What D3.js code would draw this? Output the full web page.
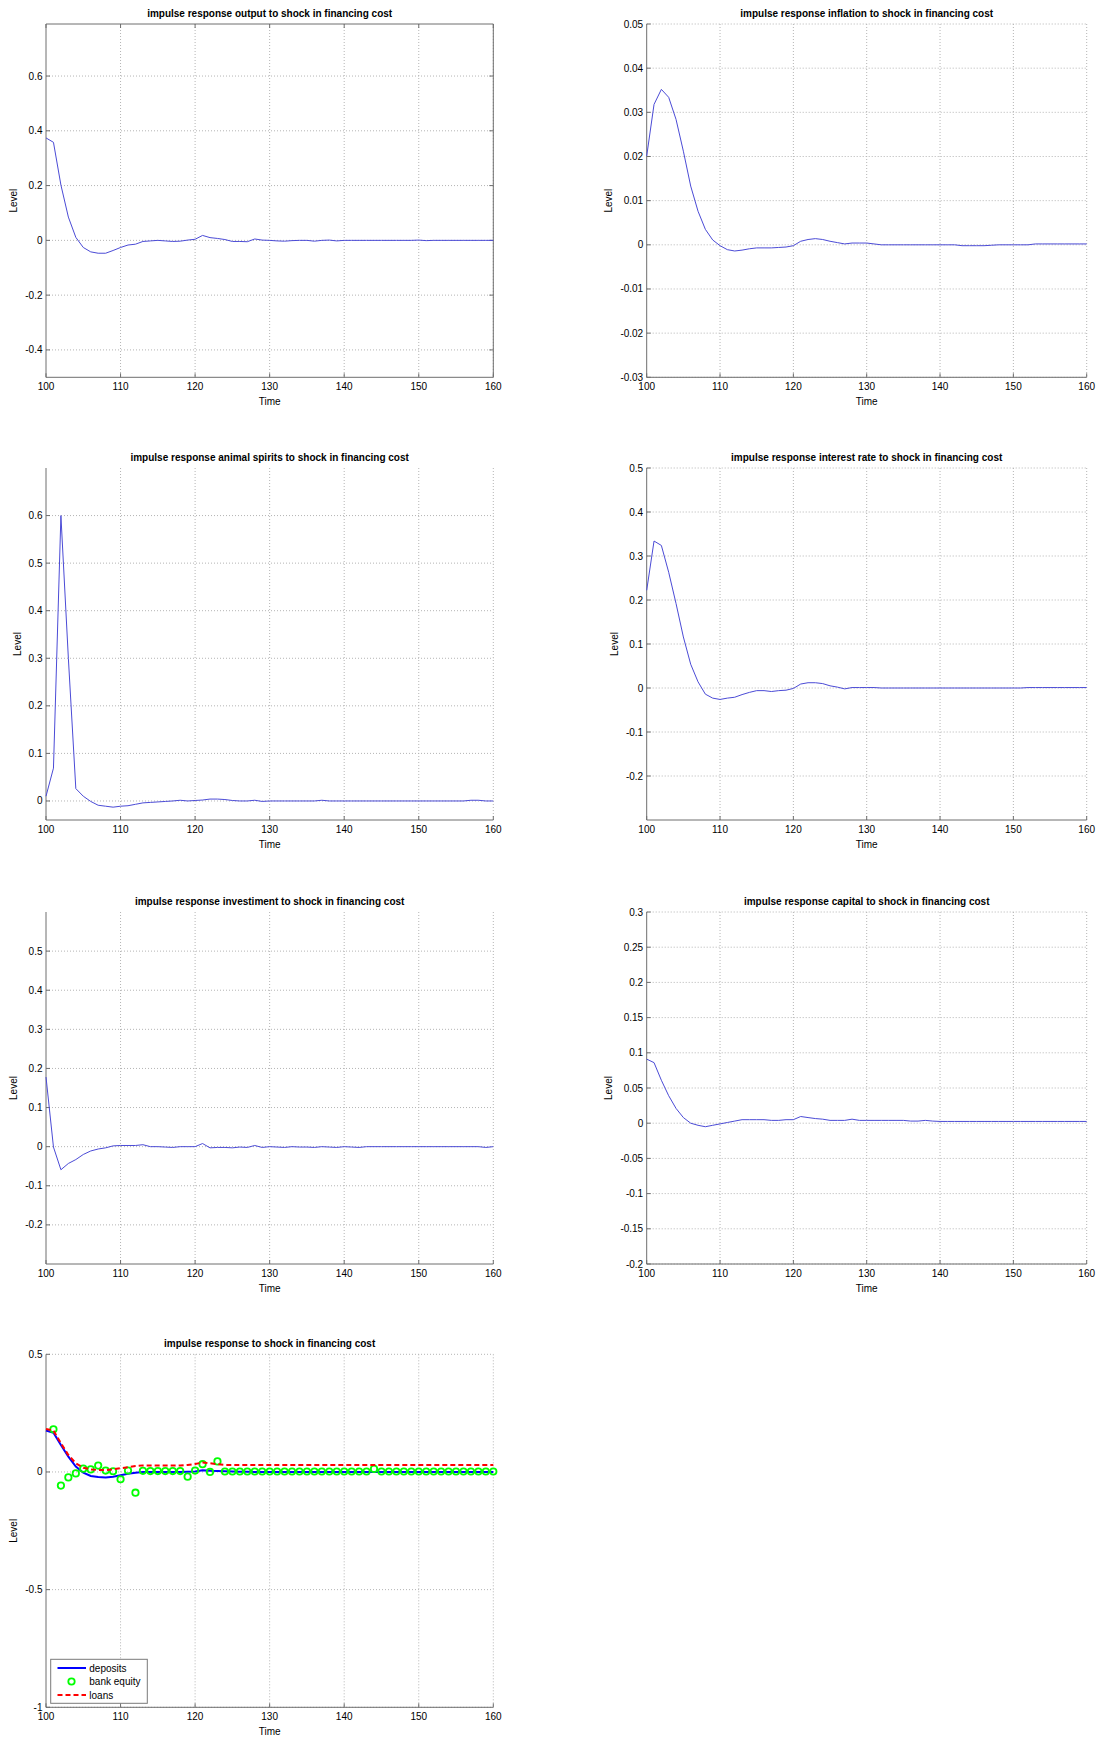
<!DOCTYPE html>
<html>
<head>
<meta charset="utf-8">
<script src="https://cdn.jsdelivr.net/npm/d3@7/dist/d3.min.js"></script>
<style>
  html, body { margin: 0; padding: 0; background: #ffffff; }
  svg { display: block; }
  text { font-family: "Liberation Sans", Arial, Helvetica, sans-serif; fill: #000; }
</style>
</head>
<body>
<svg id="chart" width="1113" height="1740"></svg>
<script>
// ---------------- DATA ----------------
const timeSteps = [100,101,102,103,104,105,106,107,108,109,110,111,112,113,114,115,116,117,118,119,120,
  121,122,123,124,125,126,127,128,129,130,131,132,133,134,135,136,137,138,139,140,
  141,142,143,144,145,146,147,148,149,150,151,152,153,154,155,156,157,158,159,160];
const xTicks = [100,110,120,130,140,150,160];

const outputValues = [0.374,0.358,0.202,0.085,0.011,-0.026,-0.042,-0.047,-0.047,-0.037,
  -0.026,-0.017,-0.014,-0.004,-0.002,0.000,-0.002,-0.004,-0.003,0.001,
  0.004,0.018,0.010,0.007,0.003,-0.004,-0.004,-0.005,0.005,0.001,
  0.000,-0.002,-0.003,-0.001,0.000,0.000,-0.003,0.000,0.001,-0.002,
  0.000,0.000,0.000,0.000,0.000,0.000,0.000,0.000,0.000,0.000,
  0.001,-0.001,0.000,0.000,0.000,0.000,0.000,0.000,0.000,0.000,0.000];
const inflationValues = [0.0201,0.0318,0.0352,0.0334,0.0284,0.0212,0.0133,0.0076,0.0035,0.0011,
  -0.0002,-0.0011,-0.0014,-0.0012,-0.0009,-0.0007,-0.0007,-0.0007,-0.0006,-0.0005,
  -0.0002,0.0008,0.0012,0.0014,0.0012,0.0008,0.0005,0.0002,0.0004,0.0004,
  0.0004,0.0002,0.0000,0.0000,0.0000,0.0000,0.0000,0.0000,0.0000,0.0000,
  0.0000,0.0000,0.0000,-0.0002,-0.0002,-0.0002,-0.0002,-0.0001,0.0000,0.0000,
  0.0000,0.0000,0.0000,0.0002,0.0002,0.0002,0.0002,0.0002,0.0002,0.0002,0.0002];
const animalSpiritsValues = [0.010,0.069,0.600,0.300,0.026,0.010,-0.001,-0.009,-0.011,-0.013,
  -0.011,-0.010,-0.007,-0.004,-0.003,-0.002,-0.001,0.000,0.0015,0.000,
  0.001,0.002,0.004,0.004,0.003,0.001,0.000,0.000,0.0015,-0.001,
  0.000,0.000,0.000,0.000,0.000,0.000,0.000,0.0015,0.000,0.000,
  0.000,0.000,0.000,0.000,0.000,0.000,0.000,0.000,0.000,0.000,
  0.000,0.000,0.000,0.000,0.000,0.000,0.000,0.0015,0.0015,0.000,0.000];
const interestRateValues = [0.222,0.334,0.324,0.263,0.192,0.116,0.054,0.014,-0.014,-0.023,
  -0.026,-0.023,-0.021,-0.015,-0.010,-0.006,-0.006,-0.008,-0.006,-0.005,
  -0.001,0.009,0.012,0.012,0.010,0.005,0.002,-0.002,0.001,0.001,
  0.001,0.001,0.000,0.000,0.000,0.000,0.000,0.000,0.000,0.000,
  0.000,0.000,0.000,0.000,0.000,0.000,0.000,0.000,0.000,0.000,
  0.000,0.000,0.001,0.001,0.001,0.001,0.001,0.001,0.001,0.001,0.001];
const investmentValues = [0.178,-0.001,-0.059,-0.043,-0.033,-0.020,-0.011,-0.006,-0.003,0.002,
  0.003,0.003,0.003,0.005,0.000,0.000,-0.001,-0.002,0.000,0.000,
  0.000,0.008,-0.003,-0.002,-0.002,-0.003,-0.001,-0.002,0.003,-0.002,
  0.000,-0.001,-0.002,0.000,-0.001,-0.001,-0.002,0.000,-0.001,-0.002,
  0.000,-0.001,-0.002,0.000,0.000,0.000,0.000,0.000,0.000,0.000,
  0.000,0.000,0.000,0.000,0.000,0.000,0.000,0.000,0.000,-0.002,0.000];
const capitalValues = [0.091,0.086,0.061,0.039,0.021,0.008,0.000,-0.003,-0.005,-0.003,
  -0.001,0.001,0.003,0.005,0.005,0.005,0.005,0.004,0.004,0.005,
  0.005,0.0095,0.008,0.0066,0.0057,0.004,0.004,0.004,0.0057,0.004,
  0.004,0.004,0.004,0.004,0.004,0.004,0.003,0.003,0.004,0.003,
  0.0025,0.0025,0.0025,0.0025,0.0025,0.0025,0.0025,0.0025,0.0025,0.0025,
  0.0025,0.0025,0.0025,0.0025,0.0025,0.0025,0.0025,0.0025,0.0025,0.0025,0.0025];
const depositsValues = [0.176,0.167,0.115,0.065,0.023,-0.003,-0.017,-0.021,-0.023,-0.020,
  -0.014,-0.008,-0.003,0.000,0.000,0.000,0.000,0.000,0.000,0.001,
  0.002,0.007,0.005,0.004,0.003,0.002,0.001,0.001,0.000,0.000,
  0.000,0.000,0.000,0.000,0.000,0.000,0.000,0.000,0.000,0.000,
  0.000,0.000,0.000,0.000,0.000,0.000,0.000,0.000,0.000,0.000,
  0.000,0.000,0.000,0.000,0.000,0.000,0.000,0.000,0.000,0.000,0.000];
const bankEquityValues = [null,0.181,-0.058,-0.023,-0.006,0.014,0.011,0.027,0.006,0.003,
  -0.031,0.006,-0.088,0.005,0.004,0.004,0.004,0.004,0.004,-0.020,
  0.006,0.033,0.000,0.045,0.002,0.002,0.002,0.002,0.002,0.002,
  0.002,0.002,0.002,0.002,0.002,0.002,0.002,0.002,0.002,0.002,
  0.002,0.002,0.002,0.002,0.013,0.002,0.002,0.002,0.002,0.002,
  0.002,0.002,0.002,0.002,0.002,0.002,0.002,0.002,0.002,0.002,0.002];
const loansValues = [0.183,0.176,0.122,0.072,0.037,0.018,0.011,0.008,0.008,0.011,
  0.016,0.020,0.025,0.028,0.028,0.028,0.027,0.027,0.028,0.030,
  0.034,0.040,0.037,0.033,0.030,0.030,0.030,0.030,0.030,0.030,
  0.030,0.030,0.030,0.030,0.030,0.030,0.030,0.030,0.030,0.030,
  0.030,0.030,0.030,0.030,0.030,0.030,0.030,0.030,0.030,0.030,
  0.030,0.030,0.030,0.030,0.030,0.030,0.030,0.030,0.030,0.030,0.030];

const outputTicks = [-0.4,-0.2,0,0.2,0.4,0.6];
const inflationTicks = [-0.03,-0.02,-0.01,0,0.01,0.02,0.03,0.04,0.05];
const animalTicks = [0,0.1,0.2,0.3,0.4,0.5,0.6];
const interestTicks = [-0.2,-0.1,0,0.1,0.2,0.3,0.4,0.5];
const investmentTicks = [-0.2,-0.1,0,0.1,0.2,0.3,0.4,0.5];
const capitalTicks = [-0.2,-0.15,-0.1,-0.05,0,0.05,0.1,0.15,0.2,0.25,0.3];
const bankTicks = [-1,-0.5,0,0.5];

const legendLabels = ["deposits","bank equity","loans"];

// ---------------- LAYOUT ----------------
const svg = d3.select("#chart");
svg.append("rect").attr("width",1113).attr("height",1740).attr("fill","#fff");

const LEFT = [46, 493.3], RIGHT = [646.7, 1086.7];
const ROWS = [[24,377.3],[468,820],[912,1264],[1354.3,1707.3]];

const fmt = v => String(+v.toFixed(4));
const axisColor = "#6e6e6e";
const gridColor = "#b4b4b4";

function panel(cfg) {
  const x = d3.scaleLinear().domain([100,160]).range(cfg.xr);
  const y = d3.scaleLinear().domain(cfg.domain).range([cfg.yr[1], cfg.yr[0]]);
  const g = svg.append("g");
  const [x0,x1] = cfg.xr, [y0,y1] = cfg.yr;

  // grid
  g.append("g").selectAll("line").data(xTicks.filter(t => t !== 100)).join("line")
    .attr("x1", d => x(d)).attr("x2", d => x(d)).attr("y1", y0).attr("y2", y1)
    .attr("stroke", gridColor).attr("stroke-width",1).attr("stroke-dasharray","1,2");
  g.append("g").selectAll("line").data(cfg.ticks).join("line")
    .attr("x1", x0).attr("x2", x1).attr("y1", d => y(d)).attr("y2", d => y(d))
    .attr("stroke", gridColor).attr("stroke-width",1).attr("stroke-dasharray","1,2");

  // box (panel 1 only)
  if (cfg.box) {
    g.append("line").attr("x1",x0).attr("x2",x1).attr("y1",y0).attr("y2",y0).attr("stroke",axisColor);
    g.append("line").attr("x1",x1).attr("x2",x1).attr("y1",y0).attr("y2",y1).attr("stroke",axisColor);
    g.append("g").selectAll("line").data(xTicks).join("line")
      .attr("x1", d => x(d)).attr("x2", d => x(d)).attr("y1", y0).attr("y2", y0+4).attr("stroke",axisColor);
    g.append("g").selectAll("line").data(cfg.ticks).join("line")
      .attr("x1", x1).attr("x2", x1-4).attr("y1", d => y(d)).attr("y2", d => y(d)).attr("stroke",axisColor);
  }

  // axes lines and inward ticks
  g.append("line").attr("x1",x0).attr("x2",x1).attr("y1",y1).attr("y2",y1).attr("stroke",axisColor);
  g.append("line").attr("x1",x0).attr("x2",x0).attr("y1",y0).attr("y2",y1).attr("stroke",axisColor);
  g.append("g").selectAll("line").data(xTicks).join("line")
    .attr("x1", d => x(d)).attr("x2", d => x(d)).attr("y1", y1).attr("y2", y1-4).attr("stroke",axisColor);
  g.append("g").selectAll("line").data(cfg.ticks).join("line")
    .attr("x1", x0).attr("x2", x0+4).attr("y1", d => y(d)).attr("y2", d => y(d)).attr("stroke",axisColor);

  // tick labels
  g.append("g").selectAll("text").data(xTicks).join("text")
    .attr("x", d => x(d)).attr("y", y1+13).attr("text-anchor","middle")
    .attr("font-size",10).text(d => d);
  const yl = g.append("g").selectAll("text").data(cfg.ticks).join("text")
    .attr("x", x0-3.5).attr("y", d => y(d)).attr("dy","0.35em").attr("text-anchor","end")
    .attr("font-size",10).text(fmt);
  let maxW = 0;
  yl.each(function(){ maxW = Math.max(maxW, this.getComputedTextLength()); });

  // labels
  g.append("text").attr("x",(x0+x1)/2).attr("y",y1+27.5).attr("text-anchor","middle")
    .attr("font-size",10).text("Time");
  const lx = x0 - 3.5 - maxW - 11.5;
  g.append("text").attr("transform",`translate(${lx},${(y0+y1)/2}) rotate(-90)`)
    .attr("dy","0.35em").attr("text-anchor","middle").attr("font-size",10).text("Level");
  g.append("text").attr("x",(x0+x1)/2).attr("y",y0-7).attr("text-anchor","middle")
    .attr("font-size",10).attr("font-weight","bold").text(cfg.title);

  // series
  const plot = g.append("g");
  cfg.draw(plot, x, y);
}

function simpleLine(values) {
  return (plot, x, y) => {
    const pts = timeSteps.map((t,i) => [t, values[i]]);
    plot.append("path").datum(pts)
      .attr("d", d3.line().x(d => x(d[0])).y(d => y(d[1])))
      .attr("fill","none").attr("stroke","#4b4bd6").attr("stroke-width",1)
      .attr("stroke-linejoin","round");
  };
}

panel({ title:"impulse response output to shock in financing cost", xr:LEFT, yr:ROWS[0],
  domain:[-0.5,0.79], ticks:outputTicks, box:true, draw:simpleLine(outputValues) });
panel({ title:"impulse response inflation to shock in financing cost", xr:RIGHT, yr:ROWS[0],
  domain:[-0.03,0.05], ticks:inflationTicks, draw:simpleLine(inflationValues) });
panel({ title:"impulse response animal spirits to shock in financing cost", xr:LEFT, yr:ROWS[1],
  domain:[-0.04,0.7], ticks:animalTicks, draw:simpleLine(animalSpiritsValues) });
panel({ title:"impulse response interest rate to shock in financing cost", xr:RIGHT, yr:ROWS[1],
  domain:[-0.3,0.5], ticks:interestTicks, draw:simpleLine(interestRateValues) });
panel({ title:"impulse response investiment to shock in financing cost", xr:LEFT, yr:ROWS[2],
  domain:[-0.3,0.6], ticks:investmentTicks, draw:simpleLine(investmentValues) });
panel({ title:"impulse response capital to shock in financing cost", xr:RIGHT, yr:ROWS[2],
  domain:[-0.2,0.3], ticks:capitalTicks, draw:simpleLine(capitalValues) });

panel({ title:"impulse response to shock in financing cost", xr:LEFT, yr:ROWS[3],
  domain:[-1,0.5], ticks:bankTicks,
  draw:(plot, x, y) => {
    const line = d3.line().x(d => x(d[0])).y(d => y(d[1]));
    plot.append("path").datum(timeSteps.map((t,i)=>[t, depositsValues[i]]))
      .attr("d", line).attr("fill","none").attr("stroke","#0000ff").attr("stroke-width",2);
    plot.append("g").selectAll("circle")
      .data(timeSteps.map((t,i)=>[t, bankEquityValues[i]]).filter(d => d[1] !== null))
      .join("circle").attr("cx", d => x(d[0])).attr("cy", d => y(d[1])).attr("r",3.2)
      .attr("fill","none").attr("stroke","#00ff00").attr("stroke-width",1.8);
    plot.append("path").datum(timeSteps.map((t,i)=>[t, loansValues[i]]))
      .attr("d", line).attr("fill","none").attr("stroke","#ff0000").attr("stroke-width",2)
      .attr("stroke-dasharray","5,3");

    // legend
    const lg = svg.append("g");
    lg.append("rect").attr("x",50.7).attr("y",1659.3).attr("width",96.6).attr("height",44)
      .attr("fill","#fff").attr("stroke","#7a7a7a").attr("stroke-width",1);
    const rowsY = [1668, 1681.5, 1695];
    lg.append("line").attr("x1",57.5).attr("x2",86).attr("y1",rowsY[0]).attr("y2",rowsY[0])
      .attr("stroke","#0000ff").attr("stroke-width",2);
    lg.append("circle").attr("cx",71.5).attr("cy",rowsY[1]).attr("r",3.2)
      .attr("fill","none").attr("stroke","#00ff00").attr("stroke-width",1.8);
    lg.append("line").attr("x1",57.5).attr("x2",86).attr("y1",rowsY[2]).attr("y2",rowsY[2])
      .attr("stroke","#ff0000").attr("stroke-width",2).attr("stroke-dasharray","5,3");
    lg.selectAll("text.lab").data(legendLabels).join("text")
      .attr("x",89.3).attr("y",(d,i)=>rowsY[i]).attr("dy","0.35em")
      .attr("font-size",10).text(d => d);
  }
});
</script>
</body>
</html>
